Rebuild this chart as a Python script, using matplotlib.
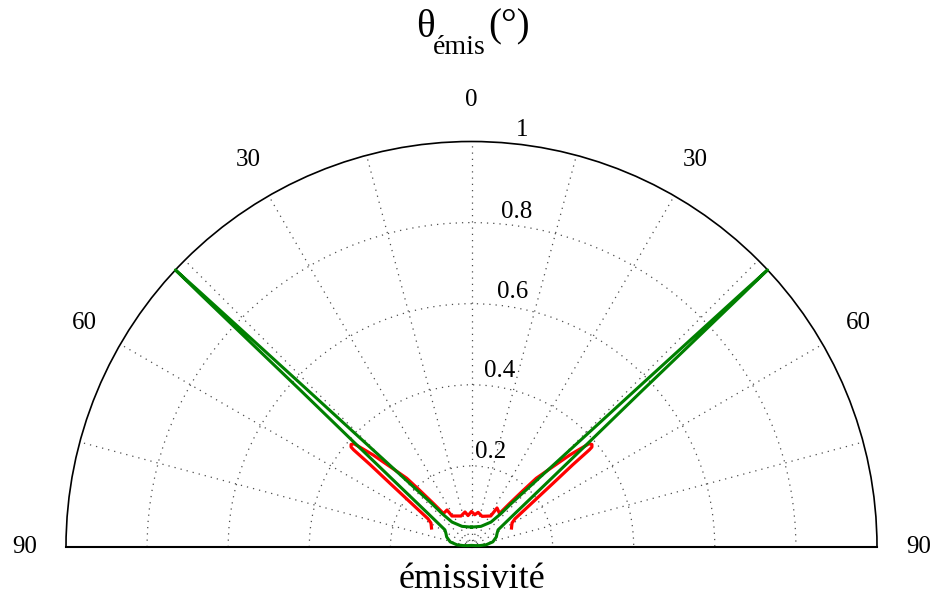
import numpy as np
import matplotlib
matplotlib.use('Agg')
import matplotlib.pyplot as plt

plt.rcParams['font.family'] = ['Liberation Serif', 'DejaVu Serif']

# ---------------- data (angle in degrees, emissivity) ----------------
# green curve, left half: from V-bottom along inner edge to peak, back along outer edge, round the small bulb
green_left_theta = [0, -24.6, -38.0, -41.4, -42.4, -44.6, -45.8, -46.3, -46.6, -46.8, -46.9,
                    -47.0, -47.2, -47.5, -48.2, -49.8, -52.7, -57.2, -61.5, -68.0, -76.5, -81.5, -80.0, -70.0, 0]
green_left_r = [0.049, 0.056, 0.078, 0.110, 0.144, 0.251, 0.418, 0.585, 0.752, 0.918, 1.0,
                0.916, 0.745, 0.573, 0.402, 0.231, 0.129, 0.078, 0.072, 0.066, 0.054, 0.036, 0.020, 0.010, 0.004]
# green curve, right half: from bulb bottom up the outer edge to peak, down the inner edge to V-bottom
green_right_theta = [70.0, 80.0, 81.5, 76.5, 68.0, 61.5, 57.2, 52.7, 49.8, 48.2, 47.5, 47.2, 47.0, 46.9,
                     46.8, 46.6, 46.3, 45.8, 44.6, 42.4, 41.4, 38.0, 24.6, 0]
green_right_r = [0.010, 0.020, 0.036, 0.054, 0.066, 0.072, 0.078, 0.129, 0.231, 0.402, 0.573, 0.745, 0.916, 1.0,
                 0.918, 0.752, 0.585, 0.418, 0.251, 0.144, 0.110, 0.078, 0.056, 0.049]

# red curve, left half from the centre outwards
red_left_theta = [0, -6.3, -10.5, -18.7, -32.2, -33.5, -39.9, -41.2, -42.4, -43.3, -45.4, -46.9,
                  -48.0, -48.7, -49.6, -50.3, -50.5, -50.9, -52.0, -53.8, -57.0, -59.4, -64.6]
red_left_r = [0.0875, 0.078, 0.0878, 0.0807, 0.0903, 0.1094, 0.1077, 0.143, 0.1885, 0.233, 0.2825, 0.332,
              0.3635, 0.386, 0.390, 0.386, 0.3765, 0.3226, 0.2553, 0.188, 0.128, 0.1161, 0.1092]
# red curve, right half from the centre outwards
red_right_theta = [0, 5.8, 10.8, 19.0, 31.8, 33.2, 39.9, 41.2, 42.4, 43.3, 45.4, 46.9,
                   48.0, 48.7, 49.6, 50.3, 50.5, 50.9, 52.0, 53.8, 57.0, 59.4, 64.6]
red_right_r = [0.0875, 0.080, 0.0870, 0.0800, 0.0900, 0.115, 0.1077, 0.143, 0.1885, 0.233, 0.2825, 0.332,
               0.3635, 0.386, 0.390, 0.386, 0.3765, 0.3226, 0.2553, 0.188, 0.128, 0.1161, 0.1092]

theta_grid = [-90, -75, -60, -45, -30, -15, 0, 15, 30, 45, 60, 75, 90]
theta_label_pos = [-90, -60, -30, 0, 30, 60, 90]
theta_labels = ['90', '60', '30', '0', '30', '60', '90']
r_grid = [0.2, 0.4, 0.6, 0.8]
r_labels = ['0.2', '0.4', '0.6', '0.8', '1']
r_label_theta = [11.6, 9.2, 9.2, 7.7, 6.9]
r_label_r = [0.239, 0.44, 0.637, 0.834, 1.036]

# ---------------- figure ----------------
W, H = 934, 600
fig = plt.figure(figsize=(W / 100, H / 100), dpi=100)
R_px = 405.5
cx, base = 471.5, 547.0
side = 2 * R_px
ax = fig.add_axes([(cx - R_px) / W, ((H - base) - 0.25 * side) / H, side / W, side / H],
                  projection='polar')
ax.set_theta_zero_location('N')
ax.set_theta_direction(-1)
ax.set_thetamin(-90)
ax.set_thetamax(90)
ax.set_ylim(0, 1)

ax.set_xticks(np.deg2rad(theta_grid))
ax.set_xticklabels([])
ax.set_yticks(r_grid)
ax.set_yticklabels([])
ax.tick_params(length=0)
ax.grid(True, color='0.3', linestyle=(0, (1, 4)), linewidth=0.9)
ax.spines['polar'].set_linewidth(1.2)
ax.spines['start'].set_linewidth(1.5)
ax.spines['end'].set_linewidth(1.5)

gt = np.deg2rad(green_left_theta + green_right_theta)
gr = np.array(green_left_r + green_right_r)
rt = np.deg2rad(red_left_theta[::-1] + red_right_theta[1:])
rr = np.array(red_left_r[::-1] + red_right_r[1:])
ax.plot(rt, rr, color='#ff0000', lw=2.3, clip_on=False, zorder=3, solid_joinstyle='round')
ax.plot(gt, gr, color='#008000', lw=2.2, clip_on=False, zorder=4, solid_joinstyle='round')

for th, lab in zip(theta_label_pos, theta_labels):
    ax.text(np.deg2rad(th), 1.103, lab, ha='center', va='center', fontsize=18)
for th, rv, lab in zip(r_label_theta, r_label_r, r_labels):
    ax.text(np.deg2rad(th), rv, lab, ha='center', va='center', fontsize=18)

# title: theta with lowered subscript, then (°)
fig.text(416 / W, 1 - 37 / H, 'θ', ha='left', va='baseline', fontsize=28)
fig.text(433 / W, 1 - 54 / H, 'émis', ha='left', va='baseline', fontsize=20)
fig.text(488 / W, 1 - 36 / H, '(°)', ha='left', va='baseline', fontsize=28)
fig.text(cx / W, 1 - 579 / H, 'émissivité', ha='center', va='center', fontsize=26)

fig.savefig('out.png', dpi=100)
